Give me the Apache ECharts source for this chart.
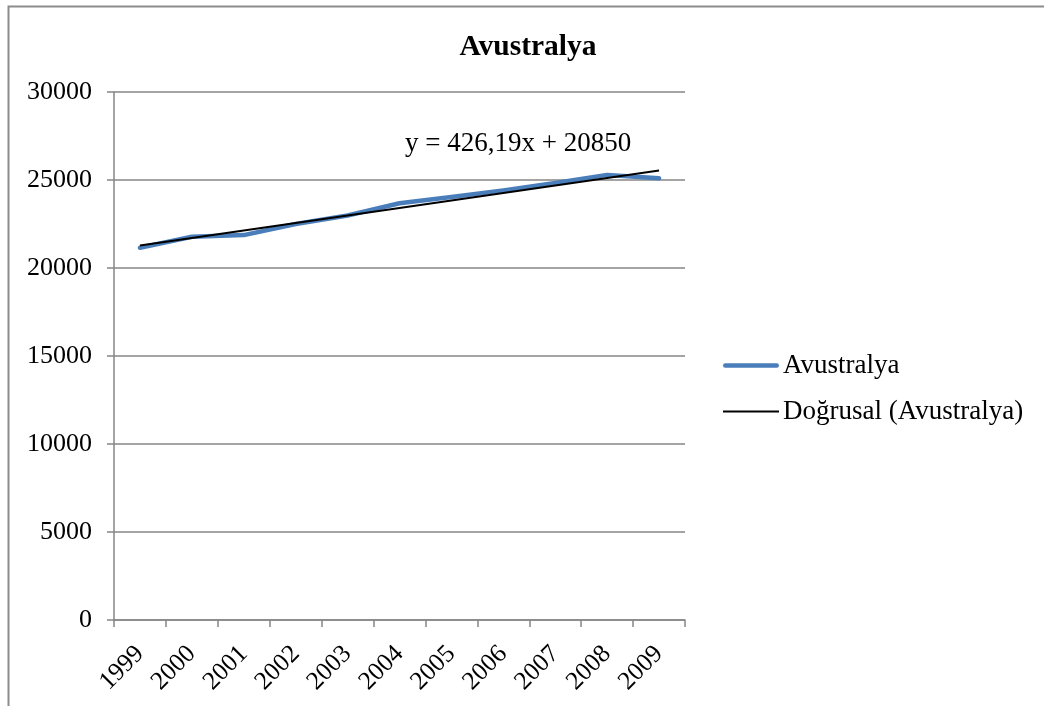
<!DOCTYPE html>
<html><head><meta charset="utf-8">
<script src="https://cdn.jsdelivr.net/npm/echarts@6/dist/echarts.min.js"></script>
<style>html,body{margin:0;padding:0;background:#fff}#c{width:1044px;height:706px}</style>
</head><body><div id="c"></div>
<script>
const categories = ['1999','2000','2001','2002','2003','2004','2005','2006','2007','2008','2009'];
const avustralya = [21150, 21775, 21870, 22500, 22980, 23680, 24030, 24410, 24830, 25290, 25100];
const trend = [21276, 21702, 22129, 22555, 22981, 23407, 23833, 24260, 24686, 25112, 25538];
const yTicks = [0, 5000, 10000, 15000, 20000, 25000, 30000];
const FONT = '"Liberation Serif", "Times New Roman", serif';
const chart = echarts.init(document.getElementById('c'));
chart.setOption({
  animation: false,
  textStyle: {fontFamily: FONT, color: '#000'},
  title: {text: 'Avustralya', left: 523, top: 27, textAlign: 'center',
    textStyle: {fontFamily: FONT, fontSize: 29.5, fontWeight: 'bold', color: '#000'}},
  graphic: [
    {type: 'rect', shape: {x: 8.5, y: 6.5, width: 1200, height: 900},
     style: {fill: 'none', stroke: '#8c8c8c', lineWidth: 2}, silent: true, z: -1},
    {type: 'text', x: 405, y: 144,
     style: {text: 'y = 426,19x + 20850', font: '27px ' + FONT, fill: '#000', verticalAlign: 'middle'}}
  ],
  legend: {
    orient: 'vertical', left: 723, top: 352, padding: 0, itemWidth: 56, itemHeight: 14, itemGap: 19,
    textStyle: {fontFamily: FONT, fontSize: 27, color: '#000', padding: [0, 0, 0, -1]},
    data: [{name: 'Avustralya', icon: 'path://M2.25,0 L53.75,0 A2.25,2.25 0 0 1 53.75,4.5 L2.25,4.5 A2.25,2.25 0 0 1 2.25,0 Z', itemStyle: {color: '#4a7ebb'}},
           {name: 'Doğrusal (Avustralya)', icon: 'path://M3,0 L53,0 L53,2 L3,2 Z', itemStyle: {color: '#000'}}]
  },
  grid: {left: 114, right: 359, top: 92, bottom: 86, containLabel: false},
  xAxis: {
    type: 'category', data: categories, boundaryGap: true,
    axisLine: {lineStyle: {color: '#868686', width: 1.5}},
    axisTick: {show: true, length: 7, lineStyle: {color: '#868686', width: 1.5}},
    axisLabel: {rotate: 45, fontSize: 25.5, color: '#000', fontFamily: FONT, margin: 30, interval: 0}
  },
  yAxis: {
    type: 'value', min: 0, max: 30000, interval: 5000,
    axisLine: {show: true, lineStyle: {color: '#868686', width: 1.5}},
    axisTick: {show: true, length: 7, lineStyle: {color: '#868686', width: 1.5}},
    axisLabel: {fontSize: 26, color: '#000', fontFamily: FONT, margin: 22,
      formatter: v => yTicks.includes(v) ? String(v) : ''},
    splitLine: {lineStyle: {color: '#868686', width: 1.5}}
  },
  series: [
    {name: 'Avustralya', type: 'line', data: avustralya, symbol: 'none',
     lineStyle: {color: '#4a7ebb', width: 4.5, cap: 'round', join: 'round'}, itemStyle: {color: '#4a7ebb'}, z: 2},
    {name: 'Doğrusal (Avustralya)', type: 'line', data: trend, symbol: 'none',
     lineStyle: {color: '#000', width: 2}, itemStyle: {color: '#000'}, z: 3}
  ]
});
</script></body></html>
